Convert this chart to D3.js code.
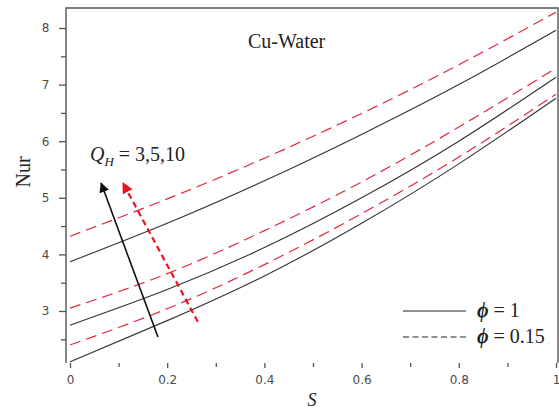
<!DOCTYPE html>
<html><head><meta charset="utf-8">
<script src="https://cdn.jsdelivr.net/npm/d3@7"></script>
<style>body{margin:0;background:#fff}svg{display:block}</style>
</head><body>
<svg id="c" width="559" height="410"></svg>
<script>
const sValues = [0, 0.2, 0.4, 0.6, 0.8, 1];
const solidQH3 = [2.10, 2.83, 3.62, 4.55, 5.60, 6.76];
const solidQH5 = [2.75, 3.38, 4.12, 5.00, 6.00, 7.13];
const solidQH10 = [3.87, 4.55, 5.30, 6.12, 7.00, 7.96];
const dashQH3 = [2.40, 3.04, 3.82, 4.72, 5.72, 6.83];
const dashQH5 = [3.05, 3.66, 4.42, 5.28, 6.25, 7.29];
const dashQH10 = [4.32, 4.98, 5.70, 6.49, 7.35, 8.28];
const xTicks = [0, 0.2, 0.4, 0.6, 0.8, 1];
const xMinor = [0.1, 0.3, 0.5, 0.7, 0.9];
const yTicks = [3, 4, 5, 6, 7, 8];
const yMinor = [2.5, 3.5, 4.5, 5.5, 6.5, 7.5];
const arrowSolid = [[0.181, 2.54], [0.064, 5.26]];
const arrowDash = [[0.263, 2.81], [0.109, 5.26]];

const svg = d3.select("#c");
const x = d3.scaleLinear().domain([0, 1]).range([70, 556]);
const y = d3.scaleLinear().domain([3, 8]).range([311, 28]);
const L = 66, R = 558, T = 8, B = 363;
const axisCol = "#555";

// frame
svg.append("path").attr("d", `M${L},${B}V${T}H${R}V${B}`).attr("fill","none").attr("stroke",axisCol).attr("stroke-width",1.4);

const defs = svg.append("defs");
defs.append("marker").attr("id","ahB").attr("viewBox","0 0 10 10").attr("refX",9).attr("refY",5)
  .attr("markerWidth",10).attr("markerHeight",10).attr("markerUnits","userSpaceOnUse").attr("orient","auto")
  .append("path").attr("d","M0,0L10,5L0,10Z").attr("fill","#111");
defs.append("marker").attr("id","ahR").attr("viewBox","0 0 10 10").attr("refX",9).attr("refY",5)
  .attr("markerWidth",11).attr("markerHeight",11).attr("markerUnits","userSpaceOnUse").attr("orient","auto")
  .append("path").attr("d","M0,0L10,5L0,10Z").attr("fill","#e8141e");

// axes
const fmt = d => d === 0 ? "0" : (d === 1 ? "1" : d3.format(".1f")(d));
const gx = svg.append("g").attr("transform",`translate(0,${B})`)
  .call(d3.axisBottom(x).tickValues(xTicks).tickFormat(fmt).tickSize(5).tickSizeOuter(0));
const gxm = svg.append("g").attr("transform",`translate(0,${B})`)
  .call(d3.axisBottom(x).tickValues(xMinor).tickFormat("").tickSize(4).tickSizeOuter(0));
const gy = svg.append("g").attr("transform",`translate(${L},0)`)
  .call(d3.axisLeft(y).tickValues(yTicks).tickFormat(d3.format("d")).tickSize(7).tickSizeOuter(0));
const gym = svg.append("g").attr("transform",`translate(${L},0)`)
  .call(d3.axisLeft(y).tickValues(yMinor).tickFormat("").tickSize(5).tickSizeOuter(0));
[gx,gxm,gy,gym].forEach(g=>{
  g.select(".domain").remove();
  g.selectAll("line").attr("stroke",axisCol).attr("stroke-width",1.3);
  g.selectAll("text").attr("fill","#4a4a4a").style("font-family","'DejaVu Sans', Verdana, sans-serif").style("font-size","12px");
});
gx.selectAll("text").attr("dy","1.05em");
gy.selectAll("text").attr("dx","-0.55em");

// curves
const line = d3.line().x(d=>x(d[0])).y(d=>y(d[1])).curve(d3.curveNatural);
const solids = [solidQH3, solidQH5, solidQH10];
const dashes = [dashQH3, dashQH5, dashQH10];
solids.forEach(v=>{
  svg.append("path").datum(sValues.map((s,i)=>[s,v[i]])).attr("d",line)
    .attr("fill","none").attr("stroke","#333").attr("stroke-width",1.1);
});
dashes.forEach(v=>{
  svg.append("path").datum(sValues.map((s,i)=>[s,v[i]])).attr("d",line)
    .attr("fill","none").attr("stroke","#e3263f").attr("stroke-width",1.2).attr("stroke-dasharray","11,6");
});

// arrows
svg.append("line").attr("x1",x(arrowSolid[0][0])).attr("y1",y(arrowSolid[0][1]))
  .attr("x2",x(arrowSolid[1][0])).attr("y2",y(arrowSolid[1][1]))
  .attr("stroke","#111").attr("stroke-width",1.6).attr("marker-end","url(#ahB)");
svg.append("line").attr("x1",x(arrowDash[0][0])).attr("y1",y(arrowDash[0][1]))
  .attr("x2",x(arrowDash[1][0])).attr("y2",y(arrowDash[1][1]))
  .attr("stroke","#e8141e").attr("stroke-width",2.2).attr("stroke-dasharray","6,4").attr("marker-end","url(#ahR)");

// texts
const serif = "'Liberation Serif', 'Times New Roman', serif";
svg.append("text").attr("x",248).attr("y",48).text("Cu-Water")
  .style("font-family",serif).style("font-size","20px").attr("fill","#222");
const q = svg.append("text").attr("x",90).attr("y",161).style("font-family",serif).style("font-size","20px").attr("fill","#222");
q.append("tspan").text("Q").style("font-style","italic");
q.append("tspan").text("H").style("font-style","italic").style("font-size","13px").attr("dy",5);
q.append("tspan").text(" = 3,5,10").attr("dy",-5);

svg.append("text").attr("transform","translate(30,172) rotate(-90)").attr("text-anchor","middle")
  .text("Nur").style("font-family",serif).style("font-size","20px").attr("fill","#222");
svg.append("text").attr("x",312).attr("y",406).attr("text-anchor","middle").text("S")
  .style("font-family",serif).style("font-style","italic").style("font-size","18px").attr("fill","#222");

// legend
svg.append("line").attr("x1",403).attr("x2",466).attr("y1",311).attr("y2",311).attr("stroke","#222").attr("stroke-width",1.2);
svg.append("line").attr("x1",403).attr("x2",469).attr("y1",337).attr("y2",337).attr("stroke","#222").attr("stroke-width",1.2).attr("stroke-dasharray","6,3.5");
const leg = [["1",317],["0.15",343]];
leg.forEach(([v,yy])=>{
  const t = svg.append("text").attr("x",477).attr("y",yy).style("font-family",serif).style("font-size","20px").attr("fill","#222");
  t.append("tspan").text("ϕ").style("font-weight","bold").style("font-style","italic");
  t.append("tspan").text(" = "+v);
});
</script>
</body></html>
